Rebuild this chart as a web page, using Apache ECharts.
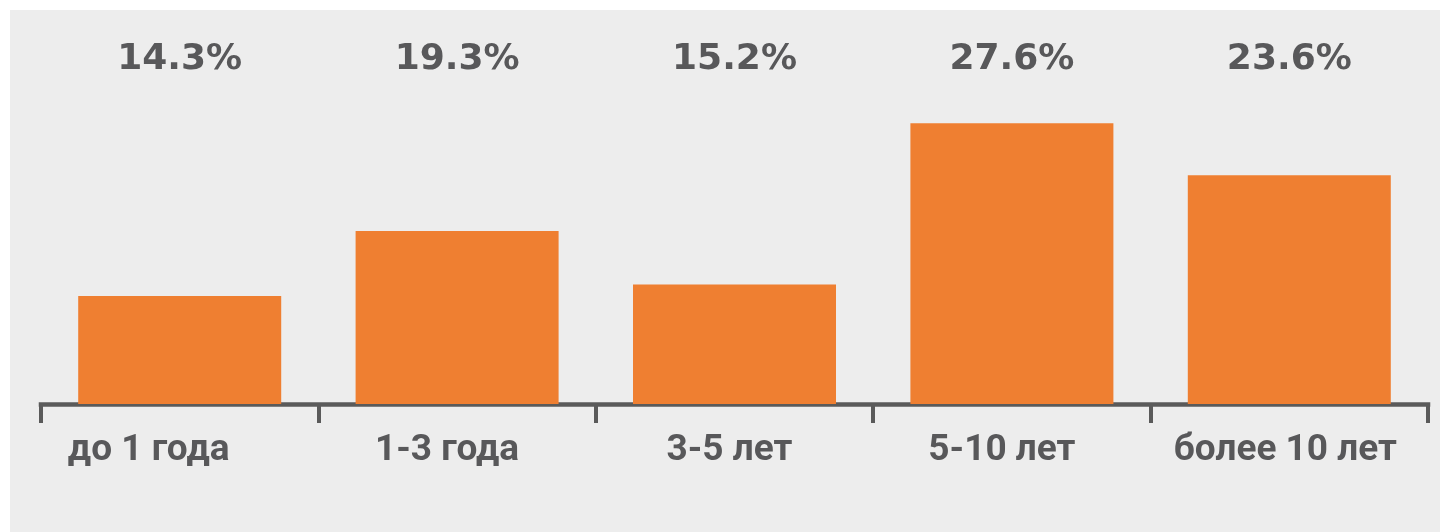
<!DOCTYPE html>
<html>
<head>
<meta charset="utf-8">
<script src="https://cdn.jsdelivr.net/npm/echarts@6/dist/echarts.min.js"></script>
<style>
  html, body { margin: 0; padding: 0; background: #ffffff; }
  #chart { width: 1440px; height: 532px; }
</style>
</head>
<body>
<div id="chart"></div>
<script>
// Distribution by tenure
const categories = ['до 1 года', '1-3 года', '3-5 лет', '5-10 лет', 'более 10 лет'];
const shares = [14.3, 19.3, 15.2, 27.6, 23.6];
const shareLabels = shares.map(v => v.toFixed(1) + '%');

// Small leftward nudges (px) for the category captions
const captionNudge = [31, 10, 5, 10, 4];

const textColor = '#58585a';
const axisColor = '#5a5a5a';
const chart = echarts.init(document.getElementById('chart'), null, { renderer: 'canvas' });

const categoryItems = categories.map((name, i) => ({
  value: name,
  textStyle: { padding: [0, captionNudge[i] * 2, 0, 0] }
}));

chart.setOption({
  backgroundColor: '#ffffff',
  animation: false,
  graphic: [{
    type: 'rect',
    z: -10,
    shape: { x: 10, y: 10, width: 1430, height: 522 },
    style: { fill: '#ededed' }
  }],
  grid: { left: 41, right: 12, top: 92, bottom: 128 },
  xAxis: [
    {
      type: 'category',
      data: categoryItems,
      position: 'bottom',
      axisLine: { lineStyle: { color: axisColor, width: 4.5, cap: 'square' } },
      axisTick: { show: true, interval: 0, length: 19, lineStyle: { color: axisColor, width: 4 } },
      axisLabel: {
        interval: 0,
        color: textColor,
        fontFamily: 'Roboto',
        fontWeight: 'bold',
        fontSize: 37,
        margin: 28,
        verticalAlign: 'middle'
      }
    },
    {
      type: 'category',
      data: shareLabels,
      position: 'top',
      axisLine: { show: false },
      axisTick: { show: false },
      axisLabel: {
        interval: 0,
        color: textColor,
        fontFamily: 'DejaVu Sans',
        fontWeight: 'bold',
        fontSize: 36,
        margin: 32,
        verticalAlign: 'middle'
      }
    }
  ],
  yAxis: {
    type: 'value',
    min: 6,
    max: 30,
    show: false,
    splitLine: { show: false }
  },
  series: [{
    type: 'bar',
    xAxisIndex: 0,
    data: shares,
    barWidth: 203,
    itemStyle: { color: '#ef7f31' },
    label: { show: false }
  }]
});
</script>
</body>
</html>
